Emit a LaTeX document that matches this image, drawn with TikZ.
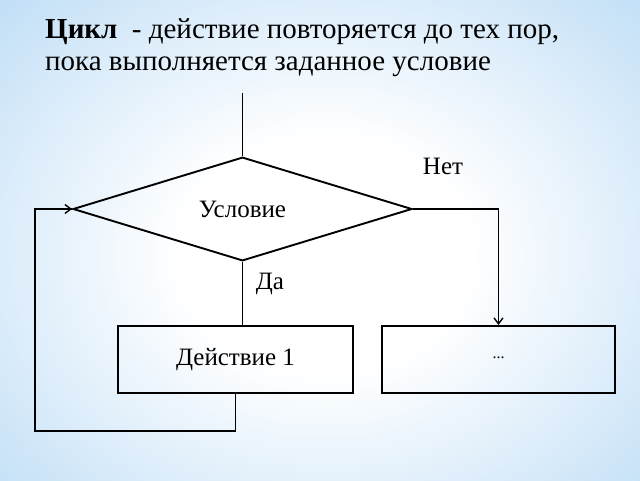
\documentclass[tikz,border=0pt]{standalone}
\usepackage{fontspec}
\setmainfont{LiberationSerif-Regular.ttf}[BoldFont=LiberationSerif-Bold.ttf]
\usetikzlibrary{shapes.geometric,arrows.meta}
\definecolor{bgblue}{HTML}{B8DAF5}
\pgfdeclareradialshading{bgshade}{\pgfpoint{0bp}{0bp}}{color(0bp)=(white); color(7bp)=(white); color(24bp)=(bgblue); color(50bp)=(bgblue)}
\begin{document}
\begin{tikzpicture}[x=1pt,y=-1pt,
  lw/.style={line width=1.9pt},
  flowline/.style={line width=1.8pt},
  arrowline/.style={line width=1.4pt,-{Straight Barb[length=6pt,width=9pt,line width=1.4pt]}},
  cond/.style={diamond,draw,lw,inner sep=0pt,minimum width=339pt,minimum height=100pt,font=\fontsize{25}{29}\selectfont},
  act/.style={rectangle,draw,lw,inner sep=0pt,minimum height=67pt,font=\fontsize{25}{29}\selectfont},
  lbl/.style={font=\fontsize{25}{29}\selectfont,inner sep=0pt}]
\useasboundingbox (0,0) rectangle (640,480);
\fill[bgblue] (0,0) rectangle (640,480);
\begin{scope}
\clip (0,0) rectangle (640,480);
\shade[shading=bgshade] (325,255) ellipse (520 and 420);
\end{scope}
% title
\node[anchor=base west,inner sep=0pt,font=\fontsize{29}{34}\selectfont] (t1) at (45,38) {\textbf{Цикл}\ \ - действие повторяется до тех пор,};
\node[anchor=base west,inner sep=0pt,font=\fontsize{29}{34}\selectfont] (t2) at (45,70) {пока выполняется заданное условие};
% nodes
\coordinate (start) at (242.5,93);
\node[cond] (c) at (242.5,209) {Условие};
\node[act,minimum width=235pt] (a1) at (235.5,359.5) {Действие 1};
\node[act,minimum width=233pt] (a2) at (498.5,359.5) {\fontsize{16}{18}\selectfont\raisebox{3pt}{...}};
\node[lbl] (no) at (443,166) {Нет};
\node[lbl] (yes) at (270,284) {Да};
% connectors
\draw[flowline] (start) -- (c.north);
\draw[flowline] (c.south) -- (c.south |- a1.north);
\coordinate (r1) at (498.5,209);
\draw[arrowline] (c.east) -- (r1) -- (a2.north);
\coordinate (b1) at (235.5,431);
\coordinate (b2) at (35,431);
\coordinate (b3) at (35,209);
\draw[flowline] (a1.south) -- (b1) -- (b2) -- (b3) -- (c.west);
\draw[arrowline] (b3) -- (c.west);
\end{tikzpicture}
\end{document}
